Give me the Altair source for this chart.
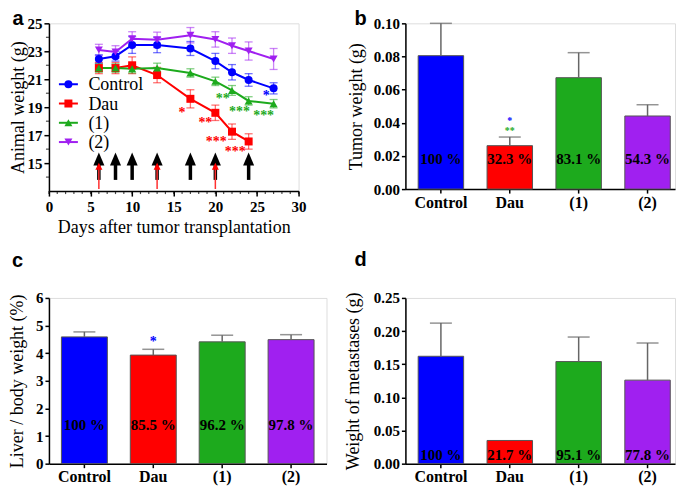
import altair as alt
import pandas as pd

SERIF = "Liberation Serif"
SANS = "Liberation Sans"

# ---------------- data ----------------
groups = ["Control", "Dau", "(1)", "(2)"]
bar_colors = ["#0000FF", "#FF0000", "#00C000", "#A800E0"]
line_colors = ["#0000FF", "#FF0000", "#1DAA1D", "#A020F0"]
marker_shapes = ["circle", "square", "triangle-up", "triangle-down"]

days = [6, 8, 10, 13, 17, 20, 22, 24, 27]
ctrl_w = [22.45, 22.65, 23.45, 23.45, 23.2, 22.3, 21.5, 20.95, 20.35]
ctrl_e = [0.3, 0.35, 0.6, 0.55, 0.5, 0.55, 0.55, 0.45, 0.4]
dau_days = [6, 8, 10, 13, 17, 20, 22, 24]
dau_w = [21.8, 21.8, 22.0, 21.3, 19.6, 18.6, 17.25, 16.55]
dau_e = [0.4, 0.4, 0.6, 0.55, 0.65, 0.55, 0.55, 0.55]
c1_w = [21.8, 21.8, 21.75, 21.8, 21.45, 20.85, 20.2, 19.45, 19.25]
c1_e = [0.3, 0.3, 0.3, 0.35, 0.3, 0.3, 0.35, 0.3, 0.3]
c2_w = [23.1, 22.95, 23.9, 23.82, 24.15, 23.85, 23.4, 23.02, 22.45]
c2_e = [0.4, 0.45, 0.5, 0.55, 0.55, 0.55, 0.55, 0.65, 0.75]

black_arrow_days = [6, 8, 10, 13, 17, 20, 24]
red_arrow_days = [6, 13, 20]

stars_a_text = ["*", "**", "***", "***", "**", "***", "***", "*"]
stars_a_day = [16.0, 18.8, 20.1, 22.4, 20.9, 22.9, 25.8, 26.1]
stars_a_w = [18.8, 18.05, 16.7, 16.0, 19.8, 18.85, 18.6, 19.98]
stars_a_grp = ["Dau", "Dau", "Dau", "Dau", "(1)", "(1)", "(1)", "Control"]

x_major = [0, 5, 10, 15, 20, 25, 30]
x_minor = list(range(0, 31))
y_major = [15, 17, 19, 21, 23, 25]
y_minor = [14, 16, 18, 20, 22, 24]

tumor = [0.0805, 0.0262, 0.0672, 0.0441]
tumor_err = [0.0195, 0.0052, 0.0151, 0.0068]
tumor_pct = ["100 %", "32.3 %", "83.1 %", "54.3 %"]
tumor_stars = ["*", "**"]
tumor_star_y = [0.0425, 0.0364]
tumor_star_grp = ["Control", "(1)"]

liver = [4.59, 3.93, 4.41, 4.49]
liver_err = [0.18, 0.21, 0.24, 0.18]
liver_pct = ["100 %", "85.5 %", "96.2 %", "97.8 %"]
liver_stars = ["*"]
liver_star_y = [4.53]
liver_star_grp = ["Control"]

meta = [0.162, 0.035, 0.154, 0.126]
meta_err = [0.050, 0.0, 0.037, 0.056]
meta_pct = ["100 %", "21.7 %", "95.1 %", "77.8 %"]


def axis(**kw):
    d = dict(grid=False, domainColor="black", tickColor="black", domainWidth=1.5, tickWidth=1.5,
             labelColor="black", labelFont=SERIF, labelFontSize=15, labelFontWeight="bold",
             titleFont=SERIF, titleFontSize=18, titleFontWeight="normal", titleColor="black",
             labelFlush=False, labelOverlap=False)
    d.update(kw)
    return alt.Axis(**d)


def letter_layer(letter, px, py):
    return alt.Chart(pd.DataFrame({"t": [letter]})).mark_text(
        font=SANS, fontSize=20, fontWeight="bold", align="left", baseline="alphabetic",
        color="black").encode(x=alt.value(px), y=alt.value(py), text="t:N")


# ---------------- panel a ----------------
rows = []
for g, xs, ws, es in [("Control", days, ctrl_w, ctrl_e), ("Dau", dau_days, dau_w, dau_e),
                      ("(1)", days, c1_w, c1_e), ("(2)", days, c2_w, c2_e)]:
    for d, w, e in zip(xs, ws, es):
        rows.append({"s": g, "day": d, "w": w, "lo": w - e, "hi": w + e})
df_a = pd.DataFrame(rows)
df_caps = pd.concat([df_a.assign(v=df_a["lo"]), df_a.assign(v=df_a["hi"])])
df_stars = pd.DataFrame({"day": stars_a_day, "w": stars_a_w, "t": stars_a_text, "grp": stars_a_grp})
df_black = pd.DataFrame({"day": black_arrow_days})
df_red = pd.DataFrame({"day": red_arrow_days})
df_xmin = pd.DataFrame({"day": x_minor})
df_ymin = pd.DataFrame({"w": y_minor})

W_A, H_A = 250, 168
xs_a = alt.Scale(domain=[0, 30], nice=False, zero=False)
ys_a = alt.Scale(domain=[13, 25], nice=False, zero=False)


def XA():
    return alt.X("day:Q", scale=xs_a, axis=axis(values=x_major, tickCount=40, format="d",
                                                 title="Days after tumor transplantation",
                                                 tickSize=5, labelPadding=3, titleY=41,
                                                 titleBaseline="alphabetic"))


def YA(field):
    return alt.Y(field, scale=ys_a, axis=axis(values=y_major, tickCount=40, format="d",
                                              title="Animal weight (g)",
                                              tickSize=5, labelPadding=2, titleX=-30, titleY=H_A / 2,
                                              titleBaseline="middle"))


color_sc = alt.Scale(domain=groups, range=line_colors)

err_rules = alt.Chart(df_a).mark_rule(strokeWidth=1.3, opacity=0.55).encode(
    x=XA(), y=YA("lo:Q"), y2="hi:Q", color=alt.Color("s:N", scale=color_sc, legend=None))
err_caps = alt.Chart(df_caps).mark_rule(strokeWidth=1.3, opacity=0.55, xOffset=-4, x2Offset=4).encode(
    x=XA(), x2="day:Q", y=YA("v:Q"), color=alt.Color("s:N", scale=color_sc, legend=None))
lines = alt.Chart(df_a).mark_line(strokeWidth=2).encode(
    x=XA(), y=YA("w:Q"), color=alt.Color("s:N", scale=color_sc, legend=None))
points = alt.Chart(df_a).mark_point(filled=True, size=64, opacity=1).encode(
    x=XA(), y=YA("w:Q"),
    color=alt.Color("s:N", scale=color_sc, legend=None),
    shape=alt.Shape("s:N", scale=alt.Scale(domain=groups, range=marker_shapes), legend=None))

ARROW_BOTTOM, ARROW_HEAD_BASE, ARROW_HEAD_MID = 13.8, 15.0, 15.3
RED_BOTTOM, RED_HEAD_BASE, RED_HEAD_MID = 13.15, 14.6, 14.78

black_shaft = alt.Chart(df_black).mark_rule(strokeWidth=3.5, color="black").encode(
    x=XA(), y=alt.datum(ARROW_BOTTOM), y2=alt.datum(ARROW_HEAD_BASE))
black_head = alt.Chart(df_black).mark_point(shape="M0,-1L0.85,1L-0.85,1Z", filled=True, size=169,
                                            color="black", opacity=1).encode(
    x=XA(), y=alt.datum(ARROW_HEAD_MID))
red_shaft = alt.Chart(df_red).mark_rule(strokeWidth=1.5, color="#FF3030").encode(
    x=XA(), y=alt.datum(RED_BOTTOM), y2=alt.datum(RED_HEAD_BASE))
red_head = alt.Chart(df_red).mark_point(shape="M0,-1L1,1L-1,1Z", filled=True, size=49,
                                        color="#FF0000", opacity=1).encode(
    x=XA(), y=alt.datum(RED_HEAD_MID))

stars_a = alt.Chart(df_stars).mark_text(font=SERIF, fontSize=14, fontWeight="bold", baseline="middle",
                                        dy=3).encode(
    x=XA(), y=YA("w:Q"), text="t:N",
    fill=alt.Fill("grp:N", scale=alt.Scale(domain=groups, range=line_colors), legend=None))

xminor = alt.Chart(df_xmin).mark_tick(orient="vertical", size=3, thickness=1.2, color="black",
                                      yOffset=1.5).encode(
    x=XA(), y=alt.datum(13))
yminor = alt.Chart(df_ymin).mark_tick(orient="horizontal", size=3, thickness=1.2, color="black",
                                      xOffset=-1.5).encode(
    y=YA("w:Q"), x=alt.datum(0))

# legend drawn inside the plot (line + marker + label)
LEG_X0, LEG_X1, LEG_MID, LEG_TX = 10, 29, 19.5, 39.5
LEG_Y0, LEG_DY = 61, 19.3
legend_layers = []
for i, g in enumerate(groups):
    one = alt.Chart(pd.DataFrame({"g": [g]}))
    yy = LEG_Y0 + i * LEG_DY
    legend_layers += [
        one.mark_rule(color=line_colors[i], strokeWidth=2).encode(
            x=alt.value(LEG_X0), x2=alt.value(LEG_X1), y=alt.value(yy)),
        one.mark_point(shape=marker_shapes[i], filled=True, size=64, color=line_colors[i],
                       opacity=1).encode(x=alt.value(LEG_MID), y=alt.value(yy)),
        one.mark_text(font=SERIF, fontSize=18, align="left", baseline="middle", color="black").encode(
            x=alt.value(LEG_TX), y=alt.value(yy + 1), text="g:N"),
    ]

panel_a = alt.layer(
    err_rules, err_caps, lines, points, black_shaft, black_head, red_shaft, red_head,
    stars_a, xminor, yminor, *legend_layers, letter_layer("a", -36.5, 2)
).properties(width=W_A, height=H_A)


# ---------------- bar panels ----------------
def bar_panel(vals, errs, pcts, label_y, ydom, yvals, fmt, ytitle, title_x, letter, lx, ly,
              width, height, p_in, p_out, align,
              star_txt=None, star_y=None, star_grp=None, star_size=10):
    df = pd.DataFrame({"g": groups, "v": vals, "top": [v + e for v, e in zip(vals, errs)],
                       "pct": pcts})
    xs = alt.Scale(domain=groups, paddingInner=p_in, paddingOuter=p_out, align=align)
    ys = alt.Scale(domain=ydom, nice=False, zero=True)
    X = alt.X("g:N", scale=xs, axis=axis(title=None, labelAngle=0, labelFontSize=16, tickSize=4,
                                          labelPadding=1))
    Y = alt.Y("v:Q", scale=ys, axis=axis(values=yvals, tickCount=40, format=fmt, title=ytitle,
                                          tickSize=4, labelPadding=2, titleX=title_x,
                                          titleY=height / 2, titleBaseline="middle"))
    col = alt.Color("g:N", scale=alt.Scale(domain=groups, range=bar_colors), legend=None)
    bars = alt.Chart(df).mark_bar(stroke="#555555", strokeWidth=1).encode(x=X, y=Y, color=col)
    eb = alt.Chart(df).transform_filter("datum.top > datum.v")
    rule = eb.mark_rule(color="#666666", strokeWidth=1.5).encode(
        x=alt.X("g:N", scale=xs), y=alt.Y("v:Q", scale=ys), y2="top:Q")
    cap = eb.mark_tick(color="#666666", thickness=1.5, size=22, orient="horizontal").encode(
        x=alt.X("g:N", scale=xs), y=alt.Y("top:Q", scale=ys))
    txt = alt.Chart(df).mark_text(font=SERIF, fontSize=15, fontWeight="bold", color="black",
                                  baseline="middle").encode(
        x=alt.X("g:N", scale=xs), y=alt.datum(label_y), text="pct:N")
    layers = [bars, rule, cap, txt]
    if star_txt:
        sdf = pd.DataFrame({"g": ["Dau"] * len(star_txt), "v": star_y, "t": star_txt, "c": star_grp})
        layers.append(alt.Chart(sdf).mark_text(font=SERIF, fontSize=star_size, fontWeight="bold",
                                               baseline="middle", dy=star_size * 0.25).encode(
            x=alt.X("g:N", scale=xs), y=alt.Y("v:Q", scale=ys), text="t:N",
            fill=alt.Fill("c:N", scale=alt.Scale(domain=groups,
                                                  range=["#3030FF", "#FF0000", "#40D040", "#A800E0"]),
                          legend=None)))
    layers.append(letter_layer(letter, lx, ly))
    return alt.layer(*layers).properties(width=width, height=height)


panel_b = bar_panel(tumor, tumor_err, tumor_pct, 0.018, [0, 0.10], [0, 0.02, 0.04, 0.06, 0.08, 0.10],
                    ".2f", "Tumor weight (g)", -49, "b", -51, 2, 270, 166, 0.34, 0.127, 0.73,
                    tumor_stars, tumor_star_y, tumor_star_grp, 10)
panel_c = bar_panel(liver, liver_err, liver_pct, 1.4, [0, 6], [0, 1, 2, 3, 4, 5, 6], "d",
                    "Liver / body weight (%)", -31, "c", -37, -31, 278, 166, 0.333, 0.181, 0.5,
                    liver_stars, liver_star_y, liver_star_grp, 14)
panel_d = bar_panel(meta, meta_err, meta_pct, 0.013, [0, 0.25], [0, 0.05, 0.10, 0.15, 0.20, 0.25],
                    ".2f", "Weight of metastases (g)", -52, "d", -51, -32, 270, 166, 0.34, 0.127, 0.73)

chart = alt.concat(panel_a, panel_b, panel_c, panel_d, columns=2, bounds="flush",
                   spacing={"row": 107, "column": 79}).properties(
    padding={"left": 0, "top": 0, "right": 0, "bottom": 0}
).configure_view(stroke=None).configure(background="white")

chart.save("out.html", embed_options={"renderer": "svg", "actions": False})
